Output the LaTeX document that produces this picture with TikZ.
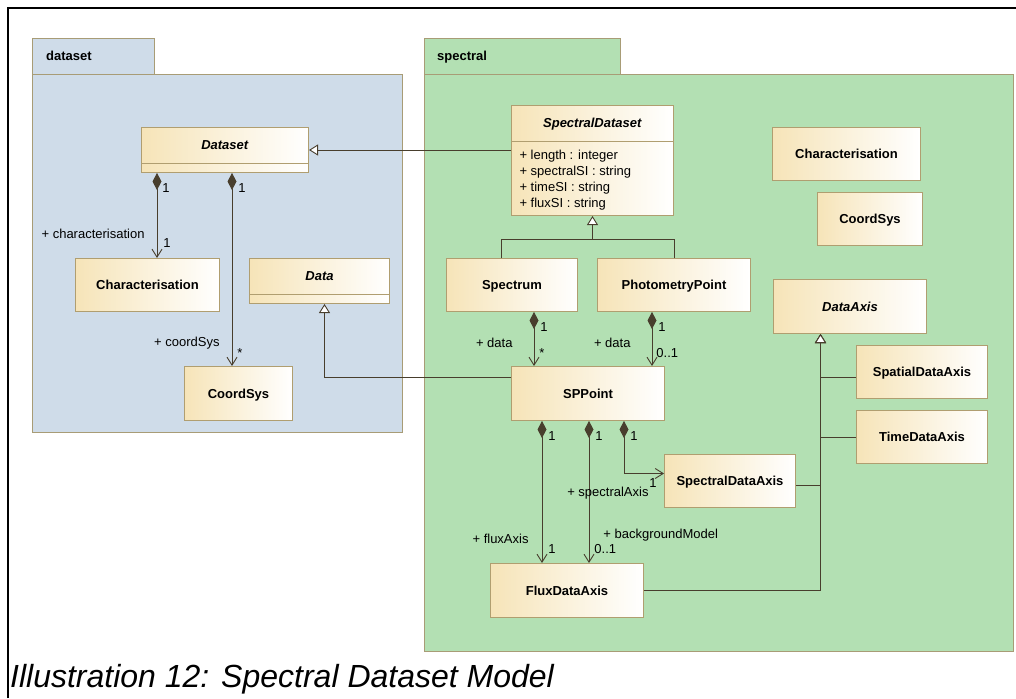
\documentclass[tikz,border=0pt]{standalone}
\usepackage{fontspec}
\setmainfont{Liberation Sans}
\usetikzlibrary{arrows.meta,shapes.multipart,positioning,calc}

\definecolor{dsblue}{RGB}{207,220,233}
\definecolor{spgreen}{RGB}{179,224,179}
\definecolor{pkgline}{RGB}{168,156,118}
\definecolor{clsfill}{RGB}{246,228,184}
\definecolor{clsline}{RGB}{176,158,112}
\definecolor{linkcol}{RGB}{72,62,45}

\newcommand{\umlfont}{\fontsize{13}{16}\selectfont}
\newcommand{\absname}[1]{\rule[-14pt]{0pt}{35pt}\textbf{\textit{#1}}}

\begin{document}
\begin{tikzpicture}[x=1pt, y=-1pt,
    pkg/.style={draw=pkgline, line width=1pt},
    pkgname/.style={font=\umlfont\bfseries, anchor=base west, inner sep=0pt},
    cls/.style={rectangle, draw=clsline, line width=1pt, left color=clsfill, right color=white, font=\umlfont\bfseries, inner sep=0pt, anchor=north west},
    clsbox/.style={cls, minimum height=53pt, text height=9.5pt, text depth=0pt},
    clssplit/.style={cls, rectangle split, rectangle split parts=2, rectangle split empty part height=8pt, rectangle split empty part depth=0pt},
    link/.style={draw=linkcol, line width=0.9pt},
    comp/.style={link, {Diamond[length=17pt, width=9pt]}-{Straight Barb[length=8pt, width=10pt]}},
    gen/.style={link, -{Triangle[open, length=9pt, width=11pt, fill=white]}},
    mult/.style={font=\umlfont, inner sep=0pt},
    role/.style={font=\umlfont, inner sep=0pt}]

    \useasboundingbox (0,0) rectangle (1016,698);
    \draw[line width=2.5pt] (8,698) -- (8,8) -- (1016,8);

    % packages
    \draw[pkg, fill=dsblue] (32,39) rectangle (154,75);
    \draw[pkg, fill=dsblue] (32,75) rectangle (402,432);
    \node[pkgname] (dsname) at (46,61) {dataset};
    \draw[pkg, fill=spgreen] (424,39) rectangle (620,75);
    \draw[pkg, fill=spgreen] (424,75) rectangle (1013,651);
    \node[pkgname] (spname) at (437,61) {spectral};

    % dataset classes
    \node[clssplit, minimum width=167pt] (dataset) at (141,127) {\absname{Dataset}};
    \node[clsbox, minimum width=144pt] (charL) at (75,258) {Characterisation};
    \node[clssplit, minimum width=140pt] (data) at (249,258) {\absname{Data}};
    \node[clsbox, minimum width=108pt, minimum height=54pt] (coordL) at (184,366) {CoordSys};

    % spectral classes
    \node[clssplit, minimum width=162pt, inner xsep=8pt, font=\umlfont, align=left,
          rectangle split part align={center,left}] (specds) at (511,105)
        {\absname{SpectralDataset}
         \nodepart{two}\rule{0pt}{17pt}+ length : integer\\
         + spectralSI : string\\
         + timeSI : string\\
         + fluxSI : string\rule[-8pt]{0pt}{8pt}};
    \node[clsbox, minimum width=148pt] (charR) at (772,127) {Characterisation};
    \node[clsbox, minimum width=105pt] (coordR) at (817,192) {CoordSys};
    \node[clsbox, minimum width=131pt] (spectrum) at (446,258) {Spectrum};
    \node[clsbox, minimum width=153pt] (photo) at (597,258) {PhotometryPoint};
    \node[clsbox, minimum width=153pt, minimum height=54pt, font=\umlfont\bfseries\itshape] (dataaxis) at (773,279) {DataAxis};
    \node[clsbox, minimum width=131pt] (spatial) at (856,345) {SpatialDataAxis};
    \node[clsbox, minimum width=131pt] (timeaxis) at (856,410) {TimeDataAxis};
    \node[clsbox, minimum width=153pt, minimum height=54pt] (sppoint) at (511,366) {SPPoint};
    \node[clsbox, minimum width=131pt] (specaxis) at (664,454) {SpectralDataAxis};
    \node[clsbox, minimum width=153pt, minimum height=54pt] (flux) at (490,563) {FluxDataAxis};

    % generalisations
    \draw[gen] (dataset.east -| specds.west) -- (dataset.east);
    \coordinate (datatip) at ([xshift=5pt]data.south);
    \draw[gen] ([yshift=16pt]sppoint.west) -| (datatip);
    \coordinate (sdjoin) at ([yshift=-23pt]specds.south);
    \draw[gen] ([xshift=-10.5pt]spectrum.north) |- (sdjoin) -- (specds.south);
    \draw[link] (photo.north) |- (sdjoin);
    \coordinate (axtip) at ([xshift=-29.5pt]dataaxis.south);
    \draw[gen] (flux.east) -| (axtip);
    \draw[gen] ([yshift=-4.5pt]specaxis.east) -| (axtip);
    \draw[gen] (timeaxis.west) -| (axtip);
    \draw[gen] ([yshift=-5.5pt]spatial.west) -| (axtip);

    % compositions
    \coordinate (dsc) at ([xshift=16pt]dataset.south west);
    \draw[comp] (dsc) -- (dsc |- charL.north)
        node[mult, pos=0, anchor=north west, xshift=5pt, yshift=-10pt] {1}
        node[mult, pos=1, anchor=south west, xshift=6pt, yshift=10pt] {1}
        node[role, pos=1, anchor=east, xshift=-12pt, yshift=24pt] {+ characterisation};
    \coordinate (dsk) at ([xshift=91pt]dataset.south west);
    \draw[comp] (dsk) -- (dsk |- coordL.north)
        node[mult, pos=0, anchor=north west, xshift=6pt, yshift=-10pt] {1}
        node[mult, pos=1, anchor=south west, xshift=5pt, yshift=8pt] {*}
        node[role, pos=1, anchor=east, xshift=-12pt, yshift=23pt] {+ coordSys};

    \coordinate (spd) at ([xshift=88pt]spectrum.south west);
    \draw[comp] (spd) -- (spd |- sppoint.north)
        node[mult, pos=0, anchor=north west, xshift=6pt, yshift=-10pt] {1}
        node[mult, pos=1, anchor=south west, xshift=5pt, yshift=8pt] {*}
        node[role, pos=1, anchor=east, xshift=-21pt, yshift=23pt] {+ data};
    \coordinate (ppd) at ([xshift=55pt]photo.south west);
    \draw[comp] (ppd) -- (ppd |- sppoint.north)
        node[mult, pos=0, anchor=north west, xshift=6pt, yshift=-10pt] {1}
        node[mult, pos=1, anchor=south west, xshift=4pt, yshift=8pt] {0..1}
        node[role, pos=1, anchor=east, xshift=-21pt, yshift=23pt] {+ data};

    \coordinate (fxa) at ([xshift=31pt]sppoint.south west);
    \draw[comp] (fxa) -- (fxa |- flux.north)
        node[mult, pos=0, anchor=north west, xshift=6pt, yshift=-10pt] {1}
        node[mult, pos=1, anchor=south west, xshift=6pt, yshift=9pt] {1}
        node[role, pos=1, anchor=east, xshift=-13pt, yshift=24pt] {+ fluxAxis};
    \coordinate (bgm) at ([xshift=78pt]sppoint.south west);
    \draw[comp] (bgm) -- (bgm |- flux.north)
        node[mult, pos=0, anchor=north west, xshift=6pt, yshift=-10pt] {1}
        node[mult, pos=1, anchor=south west, xshift=5pt, yshift=9pt] {0..1}
        node[role, pos=1, anchor=west, xshift=14pt, yshift=28pt] {+ backgroundModel};
    \coordinate (spa) at ([xshift=113pt]sppoint.south west);
    \draw[comp] (spa) |- ([yshift=7.5pt]specaxis.west)
        node[mult, pos=0, anchor=north west, xshift=6pt, yshift=-10pt] {1}
        node[mult, pos=1, anchor=north east, xshift=-7pt, yshift=-5pt] {1}
        node[role, pos=1, anchor=east, xshift=-15pt, yshift=-20pt] {+ spectralAxis};

    \node[anchor=base west, inner sep=0pt, font=\fontsize{32}{36}\selectfont\itshape] (caption) at (10,687) {Illustration 12: Spectral Dataset Model};
\end{tikzpicture}
\end{document}
